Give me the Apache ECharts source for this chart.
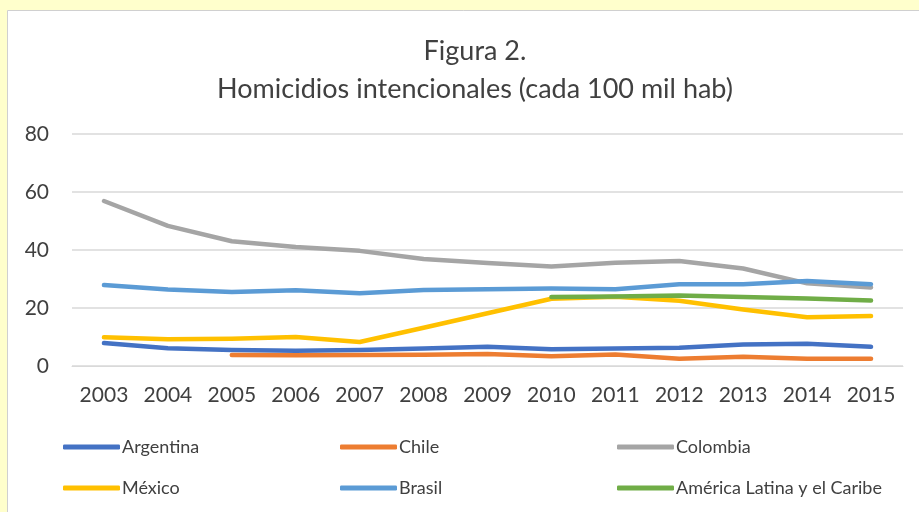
<!DOCTYPE html>
<html>
<head>
<meta charset="utf-8">
<script src="https://cdn.jsdelivr.net/npm/echarts@6/dist/echarts.min.js"></script>
<style>
  html, body { margin: 0; padding: 0; }
  #chart { width: 919px; height: 512px; }
</style>
</head>
<body>
<div id="chart"></div>
<script>
// datos
var years = ['2003','2004','2005','2006','2007','2008','2009','2010','2011','2012','2013','2014','2015'];
var argentina = [7.9, 6.1, 5.5, 5.3, 5.5, 6.0, 6.6, 5.8, 6.0, 6.3, 7.4, 7.7, 6.6];
var chile = [null, null, 3.8, 3.7, 3.8, 3.9, 4.1, 3.4, 4.0, 2.5, 3.2, 2.5, 2.5];
var colombia = [56.9, 48.3, 43.0, 41.0, 39.7, 36.9, 35.5, 34.3, 35.6, 36.2, 33.6, 28.5, 27.1];
var mexico = [9.9, 9.2, 9.4, 10.0, 8.3, 13.2, 18.2, 23.2, 23.9, 22.5, 19.5, 16.8, 17.2];
var brasil = [27.9, 26.4, 25.5, 26.1, 25.1, 26.2, 26.5, 26.7, 26.5, 28.2, 28.2, 29.3, 28.2];
var americaLatina = [null, null, null, null, null, null, null, 23.8, 24.0, 24.3, 23.8, 23.3, 22.6];

var names = ['Argentina', 'Chile', 'Colombia', 'México', 'Brasil', 'América Latina y el Caribe'];
var values = [argentina, chile, colombia, mexico, brasil, americaLatina];
var colores = ['#4472C4', '#ED7D31', '#A5A5A5', '#FFC000', '#5B9BD5', '#70AD47'];

var fuente = 'Lato, "Open Sans", sans-serif';

var chart = echarts.init(document.getElementById('chart'));

// leyenda en 3 columnas y 2 filas
var legends = names.map(function (n, i) {
  return {
    data: [n],
    left: 63 + (i % 3) * 277,
    top: i < 3 ? 438 : 479,
    padding: 0,
    icon: 'roundRect',
    itemWidth: 57,
    itemHeight: 5,
    itemGap: 0,
    selectedMode: false,
    textStyle: { color: '#404040', fontSize: 18, fontFamily: fuente, padding: [0, 0, 0, -3] }
  };
});

var series = names.map(function (n, i) {
  return {
    name: n,
    type: 'line',
    data: values[i],
    symbol: 'none',
    color: colores[i],
    lineStyle: { width: 4.5, cap: 'round', join: 'round' }
  };
});

var option = {
  backgroundColor: '#FFFFCC',
  animation: false,
  graphic: [{
    type: 'rect',
    shape: { x: 7.5, y: 10.5, width: 920, height: 510 },
    style: { fill: '#FFFFFF', stroke: '#D0D0D0', lineWidth: 1 },
    z: -10
  }],
  title: {
    text: 'Figura 2.\nHomicidios intencionales (cada 100 mil hab)',
    left: 470,
    top: 27,
    textAlign: 'center',
    textStyle: { color: '#404040', fontSize: 27, fontWeight: 'normal', fontFamily: fuente, lineHeight: 38 }
  },
  legend: legends,
  grid: { left: 72, right: 16, top: 134, bottom: 146 },
  xAxis: {
    type: 'category',
    data: years,
    boundaryGap: true,
    axisLine: { show: true, lineStyle: { color: '#D9D9D9', width: 1 } },
    axisTick: { show: false },
    axisLabel: { color: '#404040', fontSize: 21, fontFamily: fuente, margin: 19 }
  },
  yAxis: {
    type: 'value',
    min: 0,
    max: 80,
    interval: 20,
    axisLine: { show: false },
    axisTick: { show: false },
    splitLine: { lineStyle: { color: '#D9D9D9', width: 1.5 } },
    axisLabel: { color: '#404040', fontSize: 21, fontFamily: fuente, margin: 23 }
  },
  series: series
};

chart.setOption(option);
</script>
</body>
</html>
